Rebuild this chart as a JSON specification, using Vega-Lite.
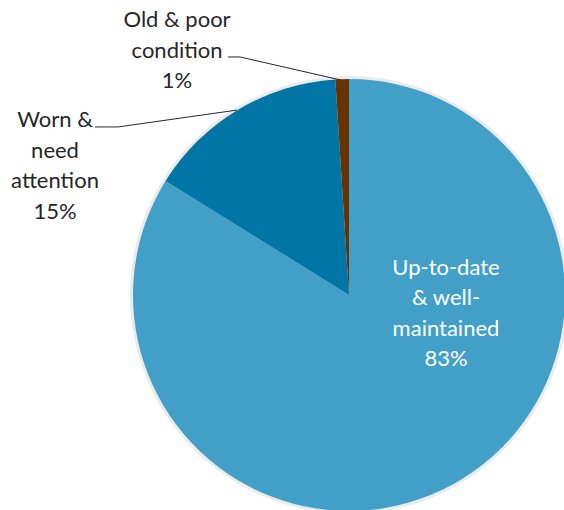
{
  "$schema": "https://vega.github.io/schema/vega-lite/v6.json",
  "width": 698,
  "height": 590,
  "autosize": {"type": "none"},
  "padding": 0,
  "background": "white",
  "config": {"view": {"stroke": null}},
  "datasets": {
    "slices": [
      {"category": "Up-to-date & well-maintained", "share": 83, "rank": 1},
      {"category": "Worn & need attention", "share": 15, "rank": 2},
      {"category": "Old & poor condition", "share": 1, "rank": 3}
    ],
    "labels": [
      {"category": "Up-to-date & well-maintained", "text": ["Up-to-date", "& well-", "maintained", "83%"], "x": 0.449, "y": 0.125},
      {"category": "Worn & need attention", "text": ["Worn &", "need", "attention", "15%"], "x": -1.361, "y": 0.81},
      {"category": "Old & poor condition", "text": ["Old & poor", "condition", "1%"], "x": -0.796, "y": 1.273}
    ],
    "leaders": [
      {"category": "Old & poor condition", "step": 1, "x": -0.56, "y": 1.102},
      {"category": "Old & poor condition", "step": 2, "x": -0.505, "y": 1.102},
      {"category": "Old & poor condition", "step": 3, "x": -0.037, "y": 0.995},
      {"category": "Worn & need attention", "step": 1, "x": -1.176, "y": 0.778},
      {"category": "Worn & need attention", "step": 2, "x": -1.069, "y": 0.778},
      {"category": "Worn & need attention", "step": 3, "x": -0.519, "y": 0.856}
    ]
  },
  "layer": [
    {
      "data": {"name": "slices"},
      "mark": {"type": "arc", "outerRadius": 219, "color": "#000000", "opacity": 0.08},
      "encoding": {
        "theta": {"field": "share", "type": "quantitative", "stack": true},
        "order": {"field": "rank", "type": "quantitative"}
      }
    },
    {
      "data": {"name": "slices"},
      "mark": {"type": "arc", "outerRadius": 216},
      "encoding": {
        "theta": {"field": "share", "type": "quantitative", "stack": true},
        "order": {"field": "rank", "type": "quantitative"},
        "color": {
          "field": "category",
          "type": "nominal",
          "scale": {
            "domain": ["Up-to-date & well-maintained", "Worn & need attention", "Old & poor condition"],
            "range": ["#42A0C8", "#0075A6", "#663300"]
          },
          "legend": null
        }
      }
    },
    {
      "data": {"name": "leaders"},
      "mark": {"type": "line", "color": "#262626", "strokeWidth": 1},
      "encoding": {
        "x": {"field": "x", "type": "quantitative", "scale": {"domain": [-1.6157, 1.6157]}, "axis": null},
        "y": {"field": "y", "type": "quantitative", "scale": {"domain": [-1.3657, 1.3657]}, "axis": null},
        "detail": {"field": "category"},
        "order": {"field": "step", "type": "quantitative"}
      }
    },
    {
      "data": {"name": "labels"},
      "mark": {"type": "text", "font": "Lato", "fontSize": 22, "lineHeight": 30.5, "align": "center", "baseline": "middle"},
      "encoding": {
        "x": {"field": "x", "type": "quantitative", "scale": {"domain": [-1.6157, 1.6157]}, "axis": null},
        "y": {"field": "y", "type": "quantitative", "scale": {"domain": [-1.3657, 1.3657]}, "axis": null},
        "text": {"field": "text"},
        "color": {
          "condition": {"test": "datum.category === 'Up-to-date & well-maintained'", "value": "#ffffff"},
          "value": "#262626"
        }
      }
    }
  ]
}
